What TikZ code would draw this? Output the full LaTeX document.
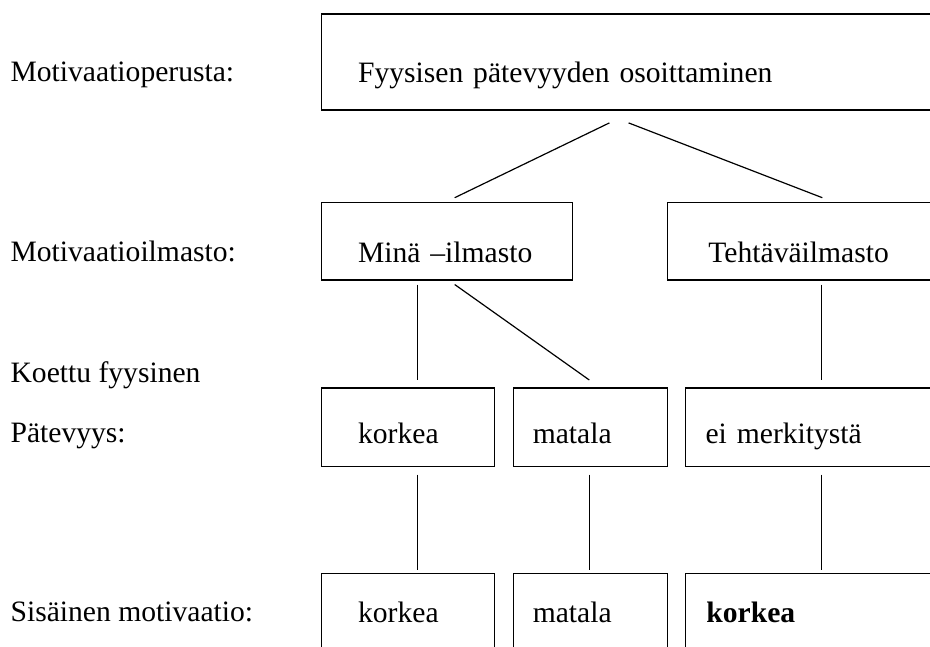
\documentclass[tikz,border=0pt]{standalone}
\usepackage{fontspec}
\setmainfont{Liberation Serif}
\usepackage{tikz}

\begin{document}
\begin{tikzpicture}[x=1pt, y=-1pt, line width=1.2pt,
                    every node/.style={font=\fontsize{29.6pt}{34pt}\selectfont},
                    box/.style={draw, anchor=north west, inner ysep=0pt, align=left},
                    row one/.style={text height=68.4pt, text depth=27.6pt},
                    row two/.style={text height=60pt, text depth=17.6pt},
                    row three/.style={text height=55.4pt, text depth=23.3pt},
                    row four/.style={text height=49pt, text depth=100pt},
                    level/.style={anchor=base west, inner sep=0pt}]

  \useasboundingbox (0,0) rectangle (930,646);
  \clip (0,0) rectangle (930,646);

  % levels on the left
  \node[level] (perusta) at (10,81.7) {Motivaatioperusta:};
  \node[level] (ilmasto) at (10,261.7) {Motivaatioilmasto:};
  \node[level] (koettu) at (10,382) {Koettu fyysinen};
  \node[level] (patevyys) at (10,442.7) {Pätevyys:};
  \node[level] (sisainen) at (10,621.7) {Sisäinen motivaatio:};

  % boxes
  \node[box, row one, inner xsep=36.6pt, text width=620pt] (top) at (320.9,13.3) {Fyysisen pätevyyden osoittaminen};
  \node[box, row two, inner xsep=36.6pt, text width=177.5pt] (mina) at (320.9,201.7) {Minä –ilmasto};
  \node[box, row two, inner xsep=41pt, text width=300pt] (tehtava) at (666.8,201.7) {Tehtäväilmasto};
  \node[box, row three, inner xsep=36.6pt, text width=99.5pt] (korkea1) at (320.9,387.3) {korkea};
  \node[box, row three, inner xsep=19.2pt, text width=115.6pt] (matala1) at (513,387.3) {matala};
  \node[box, row three, inner xsep=20.1pt, text width=300pt] (eimerk) at (684.9,387.3) {ei merkitystä};
  \node[box, row four, inner xsep=36.6pt, text width=99.5pt] (korkea2) at (320.9,572.7) {korkea};
  \node[box, row four, inner xsep=19.2pt, text width=115.6pt] (matala2) at (513,572.7) {matala};
  \node[box, row four, inner xsep=20.9pt, text width=300pt] (korkea3) at (684.9,572.7) {\textbf{korkea}};

  % connectors
  \path[draw]
    ([xshift=288.5pt,yshift=-12.4pt]top.south west) edge ([xshift=133.8pt,yshift=4pt]mina.north west)
    ([xshift=307.7pt,yshift=-12.4pt]top.south west) edge ([xshift=155.5pt,yshift=4pt]tehtava.north west)
    ([xshift=96.4pt,yshift=-4pt]mina.south west) edge ([xshift=96.4pt,yshift=7.3pt]korkea1.north west)
    ([xshift=133.8pt,yshift=-4pt]mina.south west) edge ([xshift=76.3pt,yshift=7.3pt]matala1.north west)
    ([xshift=154.7pt,yshift=-4pt]tehtava.south west) edge ([xshift=136.6pt,yshift=7.3pt]eimerk.north west)
    ([xshift=96.4pt,yshift=-7.3pt]korkea1.south west) edge ([xshift=96.4pt,yshift=2.7pt]korkea2.north west)
    ([xshift=76.3pt,yshift=-7.3pt]matala1.south west) edge ([xshift=76.3pt,yshift=2.7pt]matala2.north west)
    ([xshift=136.6pt,yshift=-7.3pt]eimerk.south west) edge ([xshift=136.6pt,yshift=2.7pt]korkea3.north west);
\end{tikzpicture}
\end{document}
